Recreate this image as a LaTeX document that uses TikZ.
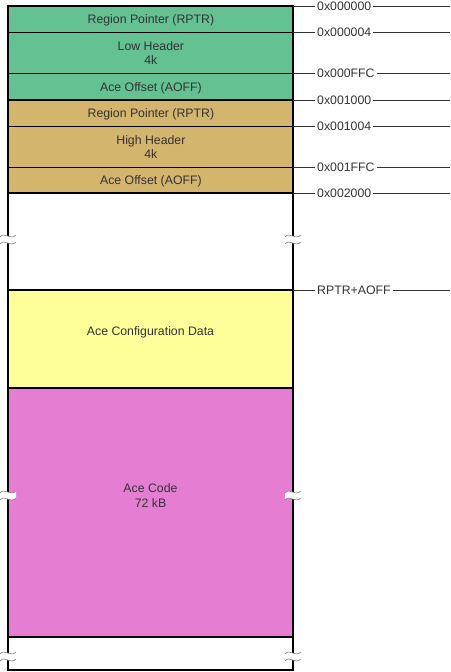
\documentclass[tikz,border=0pt]{standalone}
\usepackage{fontspec}
\setmainfont{Liberation Sans}
\definecolor{cgreen}{RGB}{99,193,146}
\definecolor{ctan}{RGB}{212,181,110}
\definecolor{cyellow}{RGB}{255,255,153}
\definecolor{cmag}{RGB}{229,126,211}
\definecolor{ctext}{RGB}{51,51,51}
\begin{document}
\begin{tikzpicture}[x=1pt,y=-1pt,
  every node/.style={font=\fontsize{12.3}{14.5}\selectfont, text=ctext},
  cell/.style={draw=black, line width=0.8pt, minimum width=285pt, inner sep=0pt, anchor=north west, align=center, text depth=-1.5pt},
  lbl/.style={align=center, inner sep=0pt},
  addr/.style={anchor=west, inner sep=2pt},
  tick/.style={draw=black!80, line width=0.7pt},
  wave/.style={draw=black!50, line width=0.6pt},
  frame/.style={draw=black, line width=1.2pt}]
\useasboundingbox (0,0) rectangle (450,672);
% frame of empty regions
\draw[frame] (8,193) -- (8,290);
\draw[frame] (293,193) -- (293,290);
\draw[frame] (8,637) -- (8,670) -- (293,670) -- (293,637);
% cells
\node[cell, fill=cgreen, minimum height=26pt] (r1) at (8,6) {Region Pointer (RPTR)};
\node[cell, fill=cgreen, minimum height=41pt] (r2) at (8,32) {Low Header\\4k};
\node[cell, fill=cgreen, minimum height=27pt] (r3) at (8,73) {Ace Offset (AOFF)};
\node[cell, fill=ctan, minimum height=26pt] (r4) at (8,100) {Region Pointer (RPTR)};
\node[cell, fill=ctan, minimum height=41pt] (r5) at (8,126) {High Header\\4k};
\node[cell, fill=ctan, minimum height=26pt] (r6) at (8,167) {Ace Offset (AOFF)};
\node[cell, fill=cyellow, minimum height=98pt] (r7) at (8,290) {};
\node[cell, fill=cmag, minimum height=249pt] (r8) at (8,388) {};
\node[lbl] (t7) at (150.5,332) {Ace Configuration Data};
\node[lbl] (t8) at (150.5,495.5) {Ace Code\\72 kB};
% thick outlines of groups
\draw[frame] (8,6) rectangle (293,100);
\draw[frame] (8,100) rectangle (293,193);
\draw[frame] (8,290) rectangle (293,388);
\draw[frame] (8,388) rectangle (293,637);
% address labels
\foreach \n/\y/\t in {a1/6/0x000000, a2/32/0x000004, a3/73/0x000FFC, a4/100/0x001000, a5/126/0x001004, a6/167/0x001FFC, a7/193/0x002000, a8/290/RPTR+AOFF}{
  \node[addr] (\n) at (315,\y) {\t};
  \coordinate (\n l) at (293,\y);
  \coordinate (\n r) at (450,\y);
  \draw[tick] (\n l) -- (\n.west);
  \draw[tick] (\n.east) -- (\n r);
}
% break marks
\foreach \bx/\by in {8/236, 293/236, 8/492, 293/492, 8/653, 293/653}{
  \fill[white] (\bx-8,\by+1) .. controls (\bx-3,\by-5) and (\bx+2,\by+5) .. (\bx+8,\by-1)
     -- (\bx+8,\by+6) .. controls (\bx+2,\by+12) and (\bx-3,\by+2) .. (\bx-8,\by+8) -- cycle;
  \draw[wave] (\bx-8,\by+1) .. controls (\bx-3,\by-5) and (\bx+2,\by+5) .. (\bx+8,\by-1);
  \draw[wave] (\bx-8,\by+8) .. controls (\bx-3,\by+2) and (\bx+2,\by+12) .. (\bx+8,\by+6);
}
\end{tikzpicture}
\end{document}
